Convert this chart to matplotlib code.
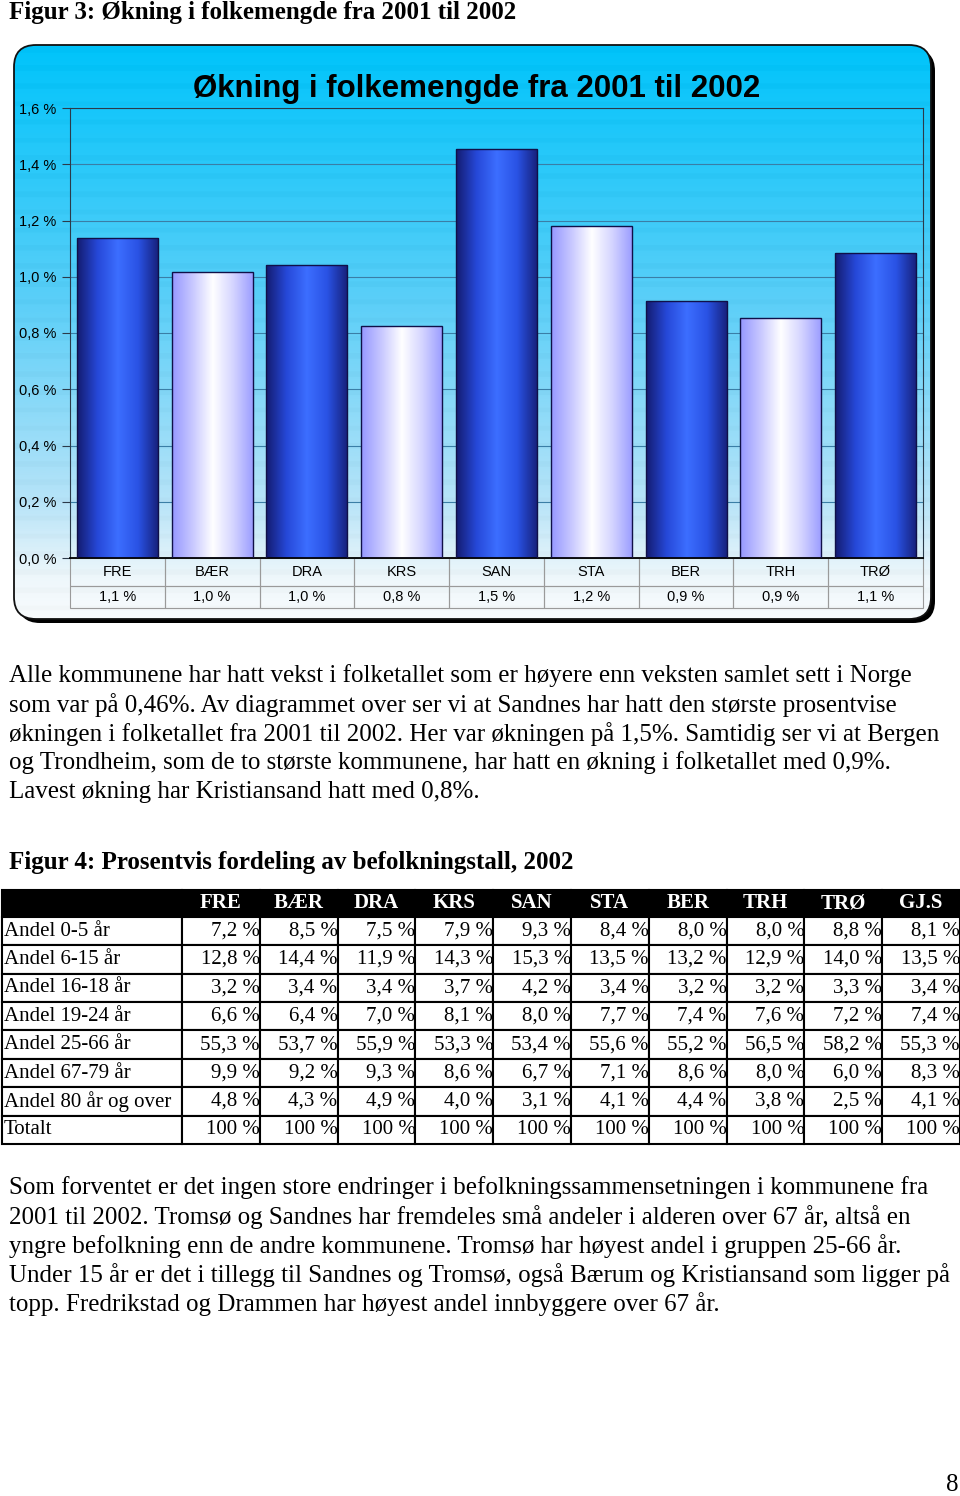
import numpy as np
import matplotlib
matplotlib.use("Agg")
import matplotlib.pyplot as plt
from matplotlib.patches import FancyBboxPatch
from matplotlib.colors import LinearSegmentedColormap
from matplotlib.ticker import FuncFormatter
from matplotlib.table import Table

# chart data (figur 3)
kommuner = ["FRE", "BÆR", "DRA", "KRS", "SAN", "STA", "BER", "TRH", "TRØ"]
okning = [1.138, 1.017, 1.042, 0.825, 1.454, 1.180, 0.914, 0.853, 1.084]

# table data (figur 4)
tab_cols = ["FRE", "BÆR", "DRA", "KRS", "SAN", "STA", "BER", "TRH", "TRØ", "GJ.S"]
tab_rows = ["Andel 0-5 år", "Andel 6-15 år", "Andel 16-18 år", "Andel 19-24 år",
            "Andel 25-66 år", "Andel 67-79 år", "Andel 80 år og over", "Totalt"]
andel_0_5 = [7.2, 8.5, 7.5, 7.9, 9.3, 8.4, 8.0, 8.0, 8.8, 8.1]
andel_6_15 = [12.8, 14.4, 11.9, 14.3, 15.3, 13.5, 13.2, 12.9, 14.0, 13.5]
andel_16_18 = [3.2, 3.4, 3.4, 3.7, 4.2, 3.4, 3.2, 3.2, 3.3, 3.4]
andel_19_24 = [6.6, 6.4, 7.0, 8.1, 8.0, 7.7, 7.4, 7.6, 7.2, 7.4]
andel_25_66 = [55.3, 53.7, 55.9, 53.3, 53.4, 55.6, 55.2, 56.5, 58.2, 55.3]
andel_67_79 = [9.9, 9.2, 9.3, 8.6, 6.7, 7.1, 8.6, 8.0, 6.0, 8.3]
andel_80 = [4.8, 4.3, 4.9, 4.0, 3.1, 4.1, 4.4, 3.8, 2.5, 4.1]
totalt = [100] * 10

heading1 = "Figur 3: Økning i folkemengde fra 2001 til 2002"
chart_title = "Økning i folkemengde fra 2001 til 2002"
heading2 = "Figur 4: Prosentvis fordeling av befolkningstall, 2002"
para1 = [
    "Alle kommunene har hatt vekst i folketallet som er høyere enn veksten samlet sett i Norge",
    "som var på 0,46%. Av diagrammet over ser vi at Sandnes har hatt den største prosentvise",
    "økningen i folketallet fra 2001 til 2002. Her var økningen på 1,5%. Samtidig ser vi at Bergen",
    "og Trondheim, som de to største kommunene, har hatt en økning i folketallet med 0,9%.",
    "Lavest økning har Kristiansand hatt med 0,8%.",
]
para2 = [
    "Som forventet er det ingen store endringer i befolkningssammensetningen i kommunene fra",
    "2001 til 2002. Tromsø og Sandnes har fremdeles små andeler i alderen over 67 år, altså en",
    "yngre befolkning enn de andre kommunene. Tromsø har høyest andel i gruppen 25-66 år.",
    "Under 15 år er det i tillegg til Sandnes og Tromsø, også Bærum og Kristiansand som ligger på",
    "topp. Fredrikstad og Drammen har høyest andel innbyggere over 67 år.",
]

W, H = 960, 1496
SERIF = "Liberation Serif"
SANS = "Liberation Sans"
PAGE_FS = 18


def pct(v, dec=1):
    return f"{v:.{dec}f} %".replace(".", ",")


def fig_rect(x0, y0, x1, y1):
    return [x0 / W, 1 - y1 / H, (x1 - x0) / W, (y1 - y0) / H]


fig = plt.figure(figsize=(W / 100, H / 100), dpi=100)
fig.patch.set_facecolor("white")

# page layer in pixel coordinates
bg = fig.add_axes([0, 0, 1, 1], zorder=0)
bg.set_xlim(0, W)
bg.set_ylim(H, 0)
bg.axis("off")

# chart frame: shadow, gradient, border
bx0, by0, bx1, by1 = 14, 45, 931, 619
shadow = FancyBboxPatch((bx0 + 4, by0 + 4), bx1 - bx0, by1 - by0,
                        boxstyle="round,pad=0,rounding_size=22", fc="black", ec="none")
bg.add_patch(shadow)
frame = FancyBboxPatch((bx0, by0), bx1 - bx0, by1 - by0,
                       boxstyle="round,pad=0,rounding_size=22", fc="white", ec="none")
bg.add_patch(frame)
stops = [(0.0, "#00c4fb"), (0.45, "#5ccff8"), (0.8, "#b8e4f8"), (0.93, "#eef7fb"), (1.0, "#f8fbfd")]
grad_cmap = LinearSegmentedColormap.from_list("bggrad", stops)
ys = np.linspace(0, 1, 600)
band = 0.015 * (np.sin(ys * 600 / 3.0) > 0.6)
img = grad_cmap(ys)[:, :3] - band[:, None]
img = np.clip(img, 0, 1)[:, None, :]
im = bg.imshow(img, extent=(bx0, bx1, by1, by0), aspect="auto", interpolation="bilinear", zorder=1)
im.set_clip_path(frame)
border = FancyBboxPatch((bx0, by0), bx1 - bx0, by1 - by0,
                        boxstyle="round,pad=0,rounding_size=22", fc="none", ec="#111111", lw=1.3, zorder=2)
bg.add_patch(border)
bg.set_xlim(0, W)
bg.set_ylim(H, 0)

# bar chart
ax = fig.add_axes(fig_rect(70, 108, 923, 558), zorder=2)
ax.set_facecolor("none")
x = np.arange(len(kommuner))
bars = ax.bar(x, okning, width=0.855, color="none", edgecolor="#101048", lw=1.0, zorder=3)
dark = LinearSegmentedColormap.from_list("dark", ["#141c70", "#2648d8", "#3c6eff", "#2a52e4", "#16207a"])
light = LinearSegmentedColormap.from_list("light", ["#9698ff", "#c8c8ff", "#ffffff", "#d4d4ff", "#9a9cff"])
grad = np.linspace(0, 1, 200)[None, :]
for i, b in enumerate(bars):
    cm = dark if i % 2 == 0 else light
    gi = ax.imshow(cm(grad)[:, :, :3], extent=(b.get_x(), b.get_x() + b.get_width(), 0, b.get_height()),
                   aspect="auto", zorder=2, interpolation="bilinear")
    gi.set_clip_path(b)
ax.set_xlim(-0.5, len(kommuner) - 0.5)
ax.set_ylim(0, 1.6)
ax.set_yticks(np.arange(0, 1.61, 0.2))
ax.yaxis.set_major_formatter(FuncFormatter(lambda v, p: pct(v)))
ax.tick_params(axis="y", labelsize=10.5, length=6, width=0.8, color="#2b3a4a", pad=4)
for lab in ax.get_yticklabels():
    lab.set_fontfamily(SANS)
ax.set_xticks([])
ax.yaxis.grid(True, color="#3a7ea6", lw=0.8)
ax.set_axisbelow(True)
for s in ["left", "top", "right"]:
    ax.spines[s].set_color("#2b3a4a")
    ax.spines[s].set_linewidth(0.8)
ax.spines["bottom"].set_color("black")
ax.spines["bottom"].set_linewidth(1.3)

# data table under bars
dt = Table(ax, bbox=[0, -50 / 450, 1, 50 / 450])
for j, k in enumerate(kommuner):
    for r, (txt, h) in enumerate([(k, 28), (pct(okning[j]), 22)]):
        c = dt.add_cell(r, j, width=1, height=h, text=txt, loc="center",
                        facecolor="none", edgecolor="#9a9a9a")
        c.set_linewidth(0.8)
        c.get_text().set_fontfamily(SANS)
dt.auto_set_font_size(False)
dt.set_fontsize(10.5)
ax.add_table(dt)

fig.text(477 / W, 1 - 89 / H, chart_title, ha="center", va="center",
         fontsize=22.5, fontweight="bold", fontfamily=SANS)

# page texts
fig.text(9 / W, 1 - 12 / H, heading1, ha="left", va="center", fontsize=PAGE_FS,
         fontweight="bold", fontfamily=SERIF)
for i, line in enumerate(para1):
    fig.text(9 / W, 1 - (676 + 29 * i) / H, line, ha="left", va="center", fontsize=PAGE_FS, fontfamily=SERIF)
fig.text(9 / W, 1 - 863 / H, heading2, ha="left", va="center", fontsize=PAGE_FS,
         fontweight="bold", fontfamily=SERIF)
for i, line in enumerate(para2):
    fig.text(9 / W, 1 - (1188 + 29 * i) / H, line, ha="left", va="center", fontsize=PAGE_FS, fontfamily=SERIF)
fig.text(952 / W, 1 - 1485 / H, "8", ha="center", va="center", fontsize=PAGE_FS, fontfamily=SERIF)

# befolkning table
tax = fig.add_axes(fig_rect(2, 890, 960, 1144), zorder=2)
tax.axis("off")
bt = Table(tax, bbox=[0, 0, 1, 1])
col_w = [180] + [77.8] * len(tab_cols)
header = [""] + tab_cols
for j, t in enumerate(header):
    c = bt.add_cell(0, j, width=col_w[j], height=27, text=t, loc="center",
                    facecolor="black", edgecolor="black")
    c.get_text().set_color("white")
    c.get_text().set_fontweight("bold")
    c.get_text().set_fontfamily(SERIF)
table_vals = [andel_0_5, andel_6_15, andel_16_18, andel_19_24, andel_25_66, andel_67_79, andel_80, totalt]
for i, (rn, vals) in enumerate(zip(tab_rows, table_vals), start=1):
    c = bt.add_cell(i, 0, width=col_w[0], height=28.4, text=rn, loc="left",
                    facecolor="white", edgecolor="black")
    c.PAD = 0.01
    c.get_text().set_fontfamily(SERIF)
    for j, v in enumerate(vals, start=1):
        txt = pct(v, 0) if rn == "Totalt" else pct(v)
        c = bt.add_cell(i, j, width=col_w[j], height=28.4, text=txt, loc="right",
                        facecolor="white", edgecolor="black")
        c.PAD = 0.0
        c.get_text().set_fontfamily(SERIF)
for c in bt.get_celld().values():
    c.set_linewidth(1.5)
bt.auto_set_font_size(False)
bt.set_fontsize(15)
tax.add_table(bt)

fig.savefig("out.png", dpi=100)
